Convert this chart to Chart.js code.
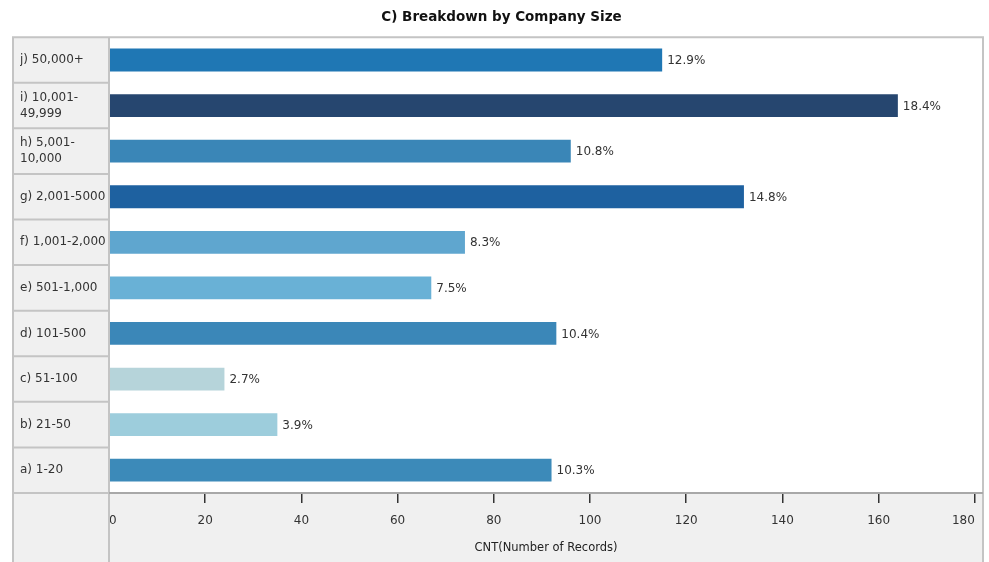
<!DOCTYPE html>
<html>
<head>
<meta charset="utf-8">
<title>C) Breakdown by Company Size</title>
<script src="https://cdn.jsdelivr.net/npm/chart.js@4"></script>
<style>
	html, body { margin: 0; padding: 0; background: #fff; }
	#wrap { width: 989px; height: 562px; position: relative; }
</style>
</head>
<body>
<div id="wrap"><canvas id="canvas-company-size"></canvas></div>
<script>
// Company size buckets, top to bottom (wrapped ones split over two lines).
var sizeCategories = [
	"j) 50,000+",
	["i) 10,001-", "49,999"],
	["h) 5,001-", "10,000"],
	"g) 2,001-5000",
	"f) 1,001-2,000",
	"e) 501-1,000",
	"d) 101-500",
	"c) 51-100",
	"b) 21-50",
	"a) 1-20"
];

// CNT(Number of Records) per bucket.
var recordCounts = [115, 164, 96, 132, 74, 67, 93, 24, 35, 92];

// Value axis ticks.
var countTicks = [0, 20, 40, 60, 80, 100, 120, 140, 160, 180];

var barColors = [
	"#1f77b4", "#26466f", "#3a86b7", "#1e61a0", "#5fa6cf",
	"#69b1d6", "#3b87b8", "#b6d4da", "#9dcddc", "#3c8ab9"
];

var FONT = "'DejaVu Sans', Verdana, sans-serif";
var totalRecords = recordCounts.reduce(function (a, b) { return a + b; }, 0);

/**
 * Panels behind the chart: grey label column, grey axis strip, white plot.
 */
var framePanels = {
	id: 'framePanels',
	beforeDraw: function (chart) {
		var ctx = chart.ctx;
		var area = chart.chartArea;
		var left = 13;
		var right = area.right;
		var bottom = chart.height;

		ctx.save();
		ctx.fillStyle = "#f0f0f0";
		ctx.fillRect(left, area.top, area.left - left, bottom - area.top);
		ctx.fillRect(area.left, area.bottom, right - area.left, bottom - area.bottom);
		ctx.fillStyle = "#ffffff";
		ctx.fillRect(area.left, area.top, right - area.left, area.bottom - area.top);
		ctx.restore();
	},
	afterDraw: function (chart) {
		var ctx = chart.ctx;
		var area = chart.chartArea;
		var yScale = chart.scales.y;
		var left = 13;
		var right = area.right;
		var bottom = chart.height;
		var half = (yScale.getPixelForTick(1) - yScale.getPixelForTick(0)) / 2;

		ctx.save();
		ctx.strokeStyle = "#c4c4c4";
		ctx.lineWidth = 2;
		ctx.beginPath();
		// outer box
		ctx.moveTo(left, bottom);
		ctx.lineTo(left, area.top);
		ctx.lineTo(right, area.top);
		ctx.lineTo(right, bottom);
		// label column divider
		ctx.moveTo(area.left, area.top);
		ctx.lineTo(area.left, bottom);
		// row cells
		yScale.ticks.forEach(function (t, i) {
			var y = yScale.getPixelForTick(i) + half;
			ctx.moveTo(left, y);
			ctx.lineTo(area.left, y);
		});
		ctx.stroke();

		// value axis line
		ctx.strokeStyle = "#a8a8a8";
		ctx.beginPath();
		ctx.moveTo(area.left, area.bottom);
		ctx.lineTo(right, area.bottom);
		ctx.stroke();
		ctx.restore();
	}
};

/**
 * Share of all records printed at the end of each bar.
 */
var shareLabels = {
	id: 'shareLabels',
	afterDatasetsDraw: function (chart) {
		var ctx = chart.ctx;
		var meta = chart.getDatasetMeta(0);

		ctx.save();
		ctx.font = "12px " + FONT;
		ctx.fillStyle = "#333";
		ctx.textAlign = "left";
		ctx.textBaseline = "middle";
		meta.data.forEach(function (bar, i) {
			var share = (recordCounts[i] / totalRecords * 100).toFixed(1) + "%";
			ctx.fillText(share, bar.x + 5, bar.y + 1);
		});
		ctx.restore();
	}
};

var ctx = document.getElementById('canvas-company-size').getContext('2d');
var chart = new Chart(ctx, {
	type: 'bar',
	data: {
		labels: sizeCategories,
		datasets: [
			{
				label: "CNT(Number of Records)",
				data: recordCounts,
				backgroundColor: barColors,
				borderWidth: 0,
				barPercentage: 0.5,
				categoryPercentage: 1
			}
		]
	},
	options: {
		indexAxis: 'y',
		responsive: true,
		maintainAspectRatio: false,
		animation: false,
		layout: {
			padding: { left: 20, right: 6, top: 0, bottom: 0 }
		},
		plugins: {
			legend: { display: false },
			tooltip: { enabled: false },
			title: {
				display: true,
				text: "C) Breakdown by Company Size",
				color: "#111",
				font: { family: FONT, size: 13.5, weight: 'bold' },
				padding: { top: 9, bottom: 12 }
			}
		},
		scales: {
			y: {
				grid: { display: false },
				border: { display: false },
				ticks: {
					crossAlign: 'far',
					color: "#333",
					font: { family: FONT, size: 12, lineHeight: 1.35 }
				},
				afterFit: function (scale) {
					scale.width = 89;
				}
			},
			x: {
				position: 'bottom',
				min: 0,
				max: 181.7,
				grid: {
					drawOnChartArea: false,
					drawTicks: true,
					tickLength: 10,
					color: "#333",
					lineWidth: 1.5
				},
				border: { display: false },
				ticks: {
					color: "#333",
					padding: 11,
					align: 'inner',
					maxRotation: 0,
					font: { family: FONT, size: 12 }
				},
				afterBuildTicks: function (scale) {
					scale.ticks = countTicks.map(function (v) {
						return { value: v };
					});
				},
				title: {
					display: true,
					text: "CNT(Number of Records)",
					color: "#222",
					font: { family: FONT, size: 11.5 },
					padding: { top: 4, bottom: 7 }
				},
				afterFit: function (scale) {
					scale.height = 69;
				}
			}
		}
	},
	plugins: [framePanels, shareLabels]
});
</script>
</body>
</html>
